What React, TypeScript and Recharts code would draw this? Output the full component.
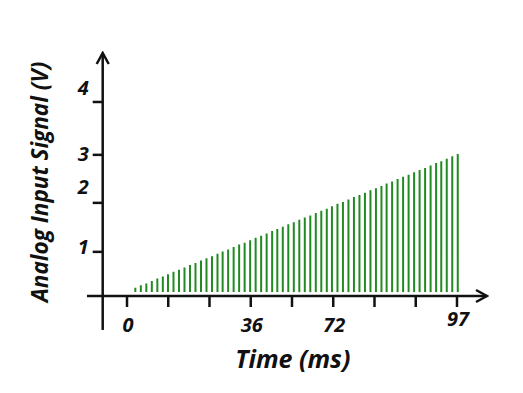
import React from 'react';
import { BarChart, Bar, XAxis, YAxis, ReferenceLine } from 'recharts';

// Sample instants (ms) of the sampled analog signal
const sampleTimes = [
  2.3, 3.9, 5.5, 7.1, 8.7, 10.3, 11.8, 13.4, 15.0, 16.6,
  18.2, 19.8, 21.4, 23.0, 24.6, 26.2, 27.7, 29.3, 30.9, 32.5,
  34.1, 35.7, 37.3, 38.9, 40.5, 42.1, 43.6, 45.2, 46.8, 48.4,
  50.0, 51.6, 53.2, 54.8, 56.4, 58.0, 59.5, 61.1, 62.7, 64.3,
  65.9, 67.5, 69.1, 70.7, 72.3, 73.9, 75.4, 77.0, 78.6, 80.2,
  81.8, 83.4, 85.0, 86.6, 88.2, 89.8, 91.3, 92.9, 94.5, 96.1,
];

// Analog input signal (V) at each sample
const signalVolts = [
  0.17, 0.22, 0.26, 0.31, 0.36, 0.40, 0.45, 0.50, 0.54, 0.59,
  0.64, 0.68, 0.73, 0.78, 0.82, 0.87, 0.92, 0.96, 1.01, 1.06,
  1.10, 1.15, 1.20, 1.24, 1.29, 1.34, 1.38, 1.43, 1.48, 1.52,
  1.57, 1.62, 1.66, 1.71, 1.76, 1.80, 1.85, 1.90, 1.94, 1.99,
  2.04, 2.08, 2.13, 2.18, 2.22, 2.27, 2.32, 2.36, 2.41, 2.46,
  2.50, 2.55, 2.60, 2.64, 2.69, 2.74, 2.78, 2.83, 2.88, 2.93,
];

const xTickValues = [0, 12, 24, 36, 48, 60, 72, 84, 96];
const xTickLabels = ['0', '', '', '36', '', '72', '', '', '97'];
const yTickValues = [0.91, 1.92, 2.91, 4.0];
const yTickLabels = ['1', '2', '3', '4'];

const data = sampleTimes.map((t, i) => ({ t, v: signalVolts[i] }));

const FONT = "'Open Sans', Lato, sans-serif";
const INK = '#111';
const BAR_BASE = 0.08;
const Y_LABEL_DY = [-5, -16, -1, -14];
const X_LABEL_DY = [23, 23, 23, 23, 23, 23, 23, 23, 17];

const YTick = (props: any) => {
  const { x, y, index } = props;
  return (
    <text x={x} y={y + (Y_LABEL_DY[index] ?? 0)} dy="0.35em" textAnchor="end"
      fontFamily={FONT} fontWeight={700} fontStyle="italic" fontSize={20} fill={INK}>
      {yTickLabels[index]}
    </text>
  );
};

const XTick = (props: any) => {
  const { x, y, index } = props;
  return (
    <text x={x + 1} y={y + (X_LABEL_DY[index] ?? 23)} textAnchor="middle"
      fontFamily={FONT} fontWeight={700} fontStyle="italic" fontSize={20} fill={INK}>
      {xTickLabels[index]}
    </text>
  );
};

const XTitle = (props: any) => {
  const vb = props.viewBox || { x: 103, y: 296, width: 384 };
  return (
    <text x={vb.x + vb.width / 2 - 2} y={vb.y + 72} textAnchor="middle"
      fontFamily={FONT} fontWeight={700} fontStyle="italic" fontSize={25} fill={INK}>
      Time (ms)
    </text>
  );
};

const YTitle = (props: any) => {
  const vb = props.viewBox || { x: 0, y: 53 };
  const cx = 48;
  const cy = vb.y + 129;
  return (
    <text x={cx} y={cy} transform={`rotate(-90, ${cx}, ${cy})`} textAnchor="middle"
      fontFamily={FONT} fontWeight={700} fontStyle="italic" fontSize={22.5} fill={INK}>
      Analog Input Signal (V)
    </text>
  );
};

export default function App() {
  return (
    <div style={{ position: 'absolute', left: 0, top: 0, width: 523, height: 393, background: '#fff' }}>
      <BarChart width={523} height={393} data={data}
        margin={{ top: 53, right: 36, bottom: 0, left: 0 }}>
        <defs>
          <marker id="arrowHead" markerUnits="userSpaceOnUse" markerWidth={16} markerHeight={16}
            viewBox="0 0 16 16" refX={14} refY={8} orient="auto-start-reverse">
            <path d="M3,2 L14,8 L3,14" fill="none" stroke={INK} strokeWidth={2.5} />
          </marker>
        </defs>
        <XAxis type="number" dataKey="t" domain={[-7.07, 104.73]} allowDataOverflow
          ticks={xTickValues} interval={0} height={97} tickSize={11} tickMargin={2}
          axisLine={{ stroke: INK, strokeWidth: 2.5, markerEnd: 'url(#arrowHead)' }}
          tickLine={{ stroke: INK, strokeWidth: 2.5 }}
          tick={<XTick />} label={<XTitle />} />
        <YAxis type="number" domain={[0, 5.01]} allowDataOverflow ticks={yTickValues}
          interval={0} width={102.7} tickSize={10} tickMargin={4}
          axisLine={{ stroke: INK, strokeWidth: 2.5, markerStart: 'url(#arrowHead)' }}
          tickLine={{ stroke: INK, strokeWidth: 2.5 }}
          tick={<YTick />} label={<YTitle />} />
        <ReferenceLine segment={[{ x: -7.07, y: 0 }, { x: -7.07, y: -0.7 }]}
          ifOverflow="visible" stroke={INK} strokeWidth={2.5} />
        <ReferenceLine segment={[{ x: -11.64, y: 0 }, { x: -7.07, y: 0 }]}
          ifOverflow="visible" stroke={INK} strokeWidth={2.5} />
        <Bar dataKey={(d: any) => [BAR_BASE, d.v]} fill="#228a22" barSize={2}
          isAnimationActive={false} />
      </BarChart>
    </div>
  );
}
